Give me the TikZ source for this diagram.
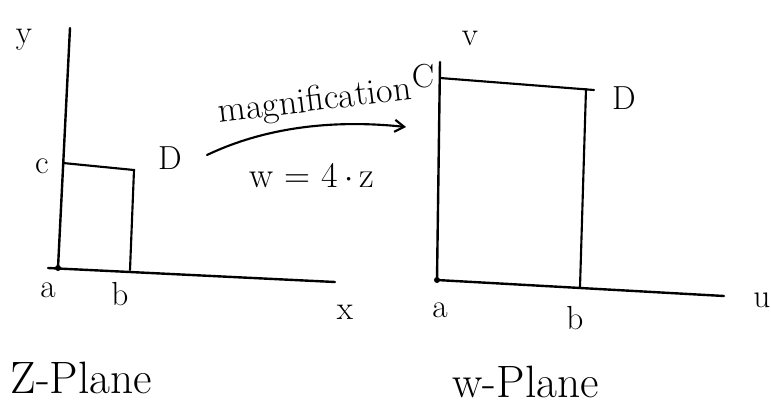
\documentclass[tikz,border=0pt]{standalone}
\usetikzlibrary{arrows.meta}
\begin{document}
\begin{tikzpicture}[x=0.75pt,y=-0.75pt,
  axis/.style={line width=1.8pt,line cap=round},
  edge/.style={line width=1.6pt,line cap=round},
  lbl/.style={font=\fontsize{25}{27}\selectfont},
  big/.style={font=\fontsize{34}{36}\selectfont},
  mid/.style={font=\fontsize{27}{29}\selectfont}]
\useasboundingbox (0,0) rectangle (771,408);
% z-plane
\coordinate (zo) at (58,268);
\coordinate (ztop) at (70,28);
\coordinate (zx) at (335,282);
\coordinate (zC) at (63,163);
\coordinate (zD) at (134,170);
\coordinate (zB) at (130,270);
\draw[axis] (ztop) -- (zo);
\draw[axis] (48,268) -- (zx);
\draw[edge] (zC) -- (zD) -- (zB);
\fill (zo) circle (3);
\node[lbl] (ly) at (24,40) {y};
\node[lbl] (lc) at (42,166) {c};
\node[lbl] (lD) at (170,158) {D};
\node[lbl] (la) at (48,290) {a};
\node[lbl] (lb) at (120,294) {b};
\node[lbl] (lx) at (345,312) {x};
\node[big,anchor=west] (zp) at (6,378) {Z-Plane};
% w-plane
\coordinate (wo) at (437,280);
\coordinate (wtop) at (440,62);
\coordinate (wx) at (724,296);
\coordinate (wC) at (440,78);
\coordinate (wD) at (594,90);
\coordinate (wB) at (580,287);
\draw[axis] (wtop) -- (wo);
\draw[axis] (wo) -- (wx);
\draw[edge] (wC) -- (wD);
\draw[edge] (586,89) -- (wB);
\fill (wo) circle (3);
\node[lbl] (lv) at (470,38) {v};
\node[lbl] (lC) at (423,76) {C};
\node[lbl] (lD2) at (624,98) {D};
\node[lbl] (la2) at (440,310) {a};
\node[lbl] (lb2) at (575,318) {b};
\node[lbl] (lu) at (762,300) {u};
\node[big,anchor=west] (wp) at (448,382) {w-Plane};
% mapping
\coordinate (as) at (207,155);
\coordinate (ae) at (406,127);
\draw[edge,-{Straight Barb[length=7pt,width=9pt]}] (as) .. controls (270,125) and (340,120) .. (ae);
\node[mid,rotate=7] (mag) at (315,102) {magnification};
\node[mid] (eq) at (312,176) {w = 4\,$\cdot$\,z};
\end{tikzpicture}
\end{document}
